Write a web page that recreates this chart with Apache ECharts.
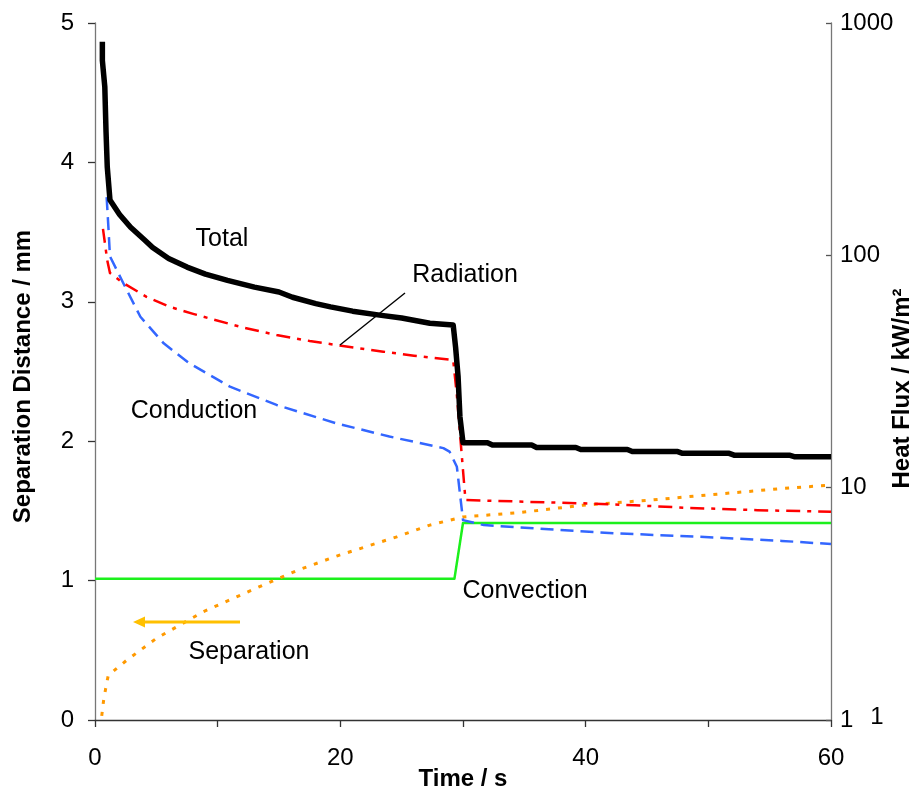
<!DOCTYPE html>
<html>
<head>
<meta charset="utf-8">
<script src="https://cdn.jsdelivr.net/npm/echarts@6/dist/echarts.min.js"></script>
<style>
  html, body { margin: 0; padding: 0; background: #ffffff; }
  #chart { width: 914px; height: 793px; }
</style>
</head>
<body>
<div id="chart"></div>
<script>
// Heat flux components (kW/m², log scale) and separation distance (mm) over time (s)

const timeLabels = [0, 20, 40, 60];
const distanceTicks = [0, 1, 2, 3, 4, 5];
const fluxTicks = [1, 10, 100, 1000];

// [time s, flux kW/m²]
const totalFlux = [
  [0.6, 830], [0.6, 690], [0.8, 530], [0.9, 340], [1.0, 240], [1.22, 173],
  [2.0, 150], [2.9, 132], [4.0, 117], [4.7, 108], [6.0, 97], [7.5, 89],
  [9.0, 83], [10.8, 78], [13.0, 73], [15.0, 69.5], [16.1, 66], [18.0, 62],
  [19.2, 60], [21.0, 57.5], [23.2, 55.3], [25.0, 53.7], [27.3, 51], [29.2, 50.1],
  [29.4, 40], [29.6, 30], [29.75, 20.2], [30.0, 15.6],
  [32.0, 15.6], [32.4, 15.25], [35.6, 15.25], [36.0, 14.9], [39.2, 14.9],
  [39.6, 14.6], [43.4, 14.6], [43.8, 14.3], [47.5, 14.3], [47.9, 14.05],
  [51.7, 14.05], [52.1, 13.8], [56.6, 13.8], [57.0, 13.6], [60.0, 13.6]
];

const radiationFlux = [
  [0.65, 130], [1.0, 95], [1.22, 84], [2.3, 76], [4.2, 66.3], [6.1, 60],
  [8.0, 56], [9.4, 53.4], [12.0, 49], [14.8, 45.4], [17.5, 42.8], [19.7, 41.1],
  [23.5, 38.5], [26.0, 37], [29.2, 35.4], [29.5, 25], [29.75, 17.2], [30.2, 8.85],
  [35.0, 8.7], [39.8, 8.56], [44.0, 8.4], [48.0, 8.2], [54.0, 8.0], [60.0, 7.88]
];

const conductionFlux = [
  [0.95, 178], [1.1, 130], [1.22, 99], [2.3, 76], [3.7, 54.4], [5.6, 41.8],
  [7.7, 34.3], [11.0, 27.2], [14.8, 22.7], [19.7, 18.9], [24.0, 16.6],
  [28.4, 14.8], [28.9, 14.3], [29.5, 12.3], [30.0, 7.25], [31.7, 6.9],
  [37.0, 6.62], [42.5, 6.36], [50.7, 6.1], [56.0, 5.9], [60.0, 5.72]
];

const convectionFlux = [
  [0.0, 4.05], [29.3, 4.05], [30.0, 7.05], [60.0, 7.05]
];

// [time s, separation mm]
const separationDistance = [
  [0.55, 0.03], [0.7, 0.14], [0.9, 0.24], [1.08, 0.32], [2.6, 0.43], [5.0, 0.585],
  [8.8, 0.776], [13.7, 0.968], [16.7, 1.08], [19.7, 1.176], [24.6, 1.314],
  [27.3, 1.398], [30.0, 1.457], [34.4, 1.486], [39.8, 1.541], [45.2, 1.577],
  [50.7, 1.62], [56.1, 1.661], [60.0, 1.685]
];

const FONT = 'Liberation Sans, Arial, sans-serif';

const chart = echarts.init(document.getElementById('chart'), null, { renderer: 'canvas' });

function lineSeries(name, data, yAxisIndex, color, width, type, z) {
  return {
    name: name,
    type: 'line',
    data: data,
    yAxisIndex: yAxisIndex,
    symbol: 'none',
    smooth: false,
    z: z,
    animation: false,
    lineStyle: { color: color, width: width, type: type, cap: 'butt', join: 'round' }
  };
}

function annotation(text, x, y) {
  return {
    type: 'text', x: x, y: y, z: 50,
    style: { text: text, fontFamily: FONT, fontSize: 25, fill: '#000', align: 'center', verticalAlign: 'middle' }
  };
}

function titleStyle(padding) {
  return { fontFamily: FONT, fontSize: 24, fontWeight: 'bold', color: '#000', padding: padding };
}

chart.setOption({
  backgroundColor: '#ffffff',
  animation: false,
  grid: { left: 95, right: 83, top: 23, bottom: 73, outerBoundsMode: 'none', containLabel: false },
  xAxis: {
    type: 'value', min: 0, max: 60, interval: 10,
    name: 'Time / s', nameLocation: 'middle', nameGap: 47, nameMoveOverlap: false,
    nameTextStyle: titleStyle([0, 0, 0, 0]),
    axisLine: { lineStyle: { color: '#333', width: 1.3 } },
    axisTick: { inside: false, length: 7, lineStyle: { color: '#333', width: 1.3 } },
    axisLabel: {
      margin: 26, fontFamily: FONT, fontSize: 24, color: '#000',
      formatter: v => (timeLabels.indexOf(v) >= 0 ? String(v) : '')
    },
    splitLine: { show: false }
  },
  yAxis: [
    {
      type: 'value', min: distanceTicks[0], max: distanceTicks[distanceTicks.length - 1], interval: 1,
      name: 'Separation Distance / mm', nameLocation: 'middle', nameRotate: 90, nameGap: 60,
      nameMoveOverlap: false,
      nameTextStyle: titleStyle([0, 10, 0, 0]),
      axisLine: { show: true, lineStyle: { color: '#777', width: 1.3 } },
      axisTick: { show: true, inside: false, length: 7, lineStyle: { color: '#333', width: 1.3 } },
      axisLabel: { margin: 21, fontFamily: FONT, fontSize: 24, color: '#000' },
      splitLine: { show: false }
    },
    {
      type: 'log', logBase: 10, min: fluxTicks[0], max: fluxTicks[fluxTicks.length - 1],
      position: 'right',
      name: 'Heat Flux / kW/m²', nameLocation: 'middle', nameRotate: 90, nameGap: 59,
      nameMoveOverlap: false,
      nameTextStyle: titleStyle([0, 34, 0, 0]),
      axisLine: { show: true, lineStyle: { color: '#777', width: 1.3 } },
      axisTick: { show: true, inside: true, length: 5, lineStyle: { color: '#555', width: 1.3 } },
      axisLabel: {
        margin: 9, fontFamily: FONT, fontSize: 24, color: '#000',
        formatter: v => String(Math.round(v))
      },
      splitLine: { show: false }
    }
  ],
  series: [
    lineSeries('Convection', convectionFlux, 1, '#1CF01C', 2.5, 'solid', 3),
    lineSeries('Separation', separationDistance, 0, '#FF9900', 3, [4, 8], 4),
    lineSeries('Conduction', conductionFlux, 1, '#3366FF', 2.5, [13, 7], 5),
    lineSeries('Radiation', radiationFlux, 1, '#FF0000', 2.5, [14, 7, 4, 7], 6),
    lineSeries('Total', totalFlux, 1, '#000000', 5.5, 'solid', 7)
  ],
  graphic: [
    annotation('Total', 222, 239),
    annotation('Radiation', 465, 275),
    annotation('Conduction', 194, 411),
    annotation('Convection', 525, 591),
    annotation('Separation', 249, 652),
    // leader from the Radiation label to its curve
    { type: 'line', z: 50, shape: { x1: 340, y1: 345, x2: 405, y2: 293 }, style: { stroke: '#000', lineWidth: 1.5 } },
    // arrow pointing Separation to the left-hand axis
    { type: 'line', z: 50, shape: { x1: 240, y1: 622, x2: 143, y2: 622 }, style: { stroke: '#FFC000', lineWidth: 3 } },
    { type: 'polygon', z: 50, shape: { points: [[133, 622], [145, 616.5], [145, 627.5]] }, style: { fill: '#FFC000' } },
    // secondary unit mark beside the right axis
    { type: 'text', x: 877, y: 717, z: 50,
      style: { text: '1', fontFamily: FONT, fontSize: 24, fill: '#000', align: 'center', verticalAlign: 'middle' } }
  ]
});
</script>
</body>
</html>
